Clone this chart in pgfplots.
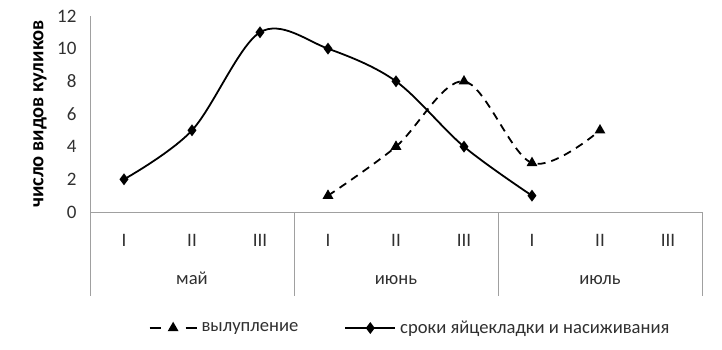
\documentclass[border=0pt]{standalone}
\usepackage{fontspec}
\setmainfont{Carlito}
\usepackage{pgfplots}
\pgfplotsset{compat=1.18}
\definecolor{axgray}{HTML}{A0A0A0}
\definecolor{txt}{HTML}{303030}
\begin{document}
\begin{tikzpicture}
\path (0,0) rectangle (722bp,350bp);
\begin{axis}[
  at={(90bp,138bp)}, anchor=south west, scale only axis,
  width=612bp, height=196bp,
  xmin=-0.5, xmax=8.5, ymin=0, ymax=12,
  ytick={0,2,...,12}, xtick={0,...,8},
  xticklabels={I,II,III,I,II,III,I,II,III},
  axis x line*=bottom, axis y line*=left,
  axis line style={axgray, line width=0.8bp, -},
  major tick length=0,
  clip=false,
  /pgf/number format/assume math mode=true,
  tick label style={font=\fontsize{19bp}{21bp}\selectfont, text=txt},
  yticklabel style={xshift=-10bp},
  xticklabel style={yshift=-19bp},
  ylabel={\bfseries число видов куликов},
  ylabel style={font=\fontsize{20.5bp}{22bp}\selectfont, at={(axis description cs:0,0.5)}, yshift=50bp, anchor=center},
  legend columns=2,
  legend style={draw=none, at={(axis description cs:0.523,-0.592)}, anchor=center,
    font=\fontsize{18.6bp}{21bp}\selectfont, text=txt,
    /tikz/every even column/.append style={column sep=44bp},
    /tikz/every odd column/.append style={column sep=2bp}},
]
\addplot[black, line width=1.8bp, dashed, dash pattern=on 8bp off 6bp, smooth, tension=0.55,
  mark=triangle*, mark size=4.5bp, mark options={solid},
  legend image code/.code={\draw[black, line width=1.8bp, dash pattern=on 11bp off 25bp] (0bp,0bp) -- (47bp,0bp);
    \draw[black, solid] plot[only marks, mark=triangle*, mark size=4.5bp] coordinates {(23.5bp,0bp)};}]
  coordinates {(3,1)(4,4)(5,8)(6,3)(7,5)};
\addlegendentry{вылупление}
\addplot[black, line width=1.8bp, smooth, tension=0.55,
  mark=diamond*, mark size=4.5bp, mark options={solid},
  legend image code/.code={\draw[black, line width=1.8bp] (0bp,0bp) -- (50bp,0bp);
    \draw[black, solid] plot[only marks, mark=diamond*, mark size=4.5bp] coordinates {(25bp,0bp)};}]
  coordinates {(0,2)(1,5)(2,11)(3,10)(4,8)(5,4)(6,1)};
\addlegendentry{сроки яйцекладки и насиживания}
\draw[axgray, line width=0.8bp] (axis cs:-0.5,0) -- ([yshift=-84bp]axis cs:-0.5,0);
\draw[axgray, line width=0.8bp] (axis cs:2.5,0) -- ([yshift=-84bp]axis cs:2.5,0);
\draw[axgray, line width=0.8bp] (axis cs:5.5,0) -- ([yshift=-84bp]axis cs:5.5,0);
\draw[axgray, line width=0.8bp] (axis cs:8.5,0) -- ([yshift=-84bp]axis cs:8.5,0);
\node[font=\fontsize{18.6bp}{21bp}\selectfont, text=txt, anchor=base] at ([yshift=-72bp]axis cs:1,0) {май};
\node[font=\fontsize{18.6bp}{21bp}\selectfont, text=txt, anchor=base] at ([yshift=-72bp]axis cs:4,0) {июнь};
\node[font=\fontsize{18.6bp}{21bp}\selectfont, text=txt, anchor=base] at ([yshift=-72bp]axis cs:7,0) {июль};
\end{axis}
\end{tikzpicture}
\end{document}
